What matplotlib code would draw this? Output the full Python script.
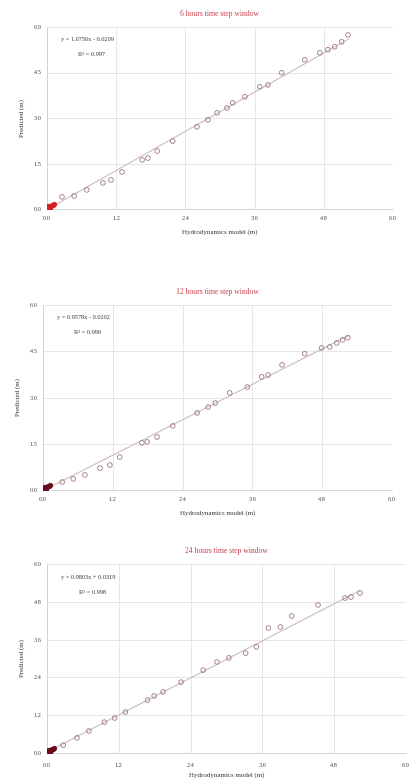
import matplotlib
matplotlib.use("Agg")
import matplotlib.pyplot as plt
import numpy as np

plt.rcParams['font.family'] = ['Liberation Serif', 'DejaVu Serif']

W, H = 409, 783

titles = ["6 hours time step window", "12 hours time step window", "24 hours time step window"]
x_label = "Hydrodynamics model (m)"
y_label = "Predicted (m)"

# fitted trend lines (slope, intercept) and R² per window
slopes = [1.0756, 0.9578, 0.9803]
intercepts = [-0.0209, -0.0202, 0.0319]
r2_text = ["R² = 0.997", "R² = 0.999", "R² = 0.998"]

# near-zero cluster shared by all windows
low_x = [0.00, 0.01, 0.02, 0.03, 0.04, 0.05, 0.06, 0.08, 0.10, 0.12, 0.02, 0.05]
low_y = [0.00, 0.02, 0.04, 0.05, 0.07, 0.08, 0.10, 0.12, 0.14, 0.16, 0.10, 0.03]

x6 = [0.26, 0.47, 0.69, 0.97, 1.11, 1.30, 1.65, 1.75, 1.91, 2.18, 2.60, 2.79, 2.95,
      3.12, 3.22, 3.43, 3.69, 3.83, 4.07, 4.47, 4.73, 4.87, 4.99, 5.11, 5.22]
y6 = [0.40, 0.43, 0.63, 0.86, 0.96, 1.22, 1.62, 1.68, 1.91, 2.24, 2.71, 2.94, 3.17,
      3.33, 3.50, 3.70, 4.03, 4.09, 4.49, 4.92, 5.15, 5.25, 5.35, 5.51, 5.74]

x12 = [0.33, 0.52, 0.72, 0.98, 1.15, 1.32, 1.70, 1.79, 1.96, 2.23, 2.65, 2.84, 2.96,
       3.21, 3.51, 3.76, 3.87, 4.11, 4.50, 4.79, 4.93, 5.05, 5.15, 5.24]
y12 = [0.26, 0.36, 0.49, 0.71, 0.81, 1.07, 1.53, 1.56, 1.72, 2.08, 2.50, 2.69, 2.82,
       3.15, 3.34, 3.67, 3.73, 4.06, 4.42, 4.61, 4.64, 4.77, 4.87, 4.94]

x24 = [0.27, 0.50, 0.70, 0.96, 1.13, 1.31, 1.68, 1.79, 1.94, 2.24, 2.61, 2.84, 3.04,
       3.32, 3.50, 3.70, 3.90, 4.09, 4.53, 4.98, 5.08, 5.23]
y24 = [0.25, 0.48, 0.70, 0.98, 1.11, 1.30, 1.68, 1.81, 1.94, 2.25, 2.63, 2.89, 3.02,
       3.17, 3.37, 3.97, 4.00, 4.35, 4.70, 4.92, 4.95, 5.08]

xs = [x6, x12, x24]
ys = [y6, y12, y24]

x_ticks = [0.0, 1.2, 2.4, 3.6, 4.8, 6.0]
y_ticks_list = [[0.0, 1.5, 3.0, 4.5, 6.0],
                [0.0, 1.5, 3.0, 4.5, 6.0],
                [0.0, 1.2, 2.4, 3.6, 4.8, 6.0]]
cluster_colors = ["#d42020", "#6a0d1a", "#6a0d1a"]

# axes boxes in pixels: left, top, right, bottom
boxes = [(47, 27, 393, 209), (43, 305, 392, 490), (47, 564, 406, 753)]
xtick_pads = [5, 5, 7]
xlabel_pads = [6, 6, 3]

fig = plt.figure(figsize=(W / 100, H / 100), dpi=100)
fig.patch.set_facecolor("white")

for i in range(3):
    l, t, r, b = boxes[i]
    ax = fig.add_axes([l / W, 1 - b / H, (r - l) / W, (b - t) / H])
    ax.set_xlim(0, 6)
    ax.set_ylim(0, 6)
    ax.set_xticks(x_ticks)
    ax.set_yticks(y_ticks_list[i])
    ax.set_xticklabels([f"{v:.1f}" for v in x_ticks], fontsize=4.5, color="#444444")
    ax.set_yticklabels([f"{v:.1f}" for v in y_ticks_list[i]], fontsize=4.5, color="#444444")
    ax.tick_params(length=0, pad=4)
    ax.tick_params(axis="x", pad=xtick_pads[i])
    ax.grid(True, color="#e2e2e2", linewidth=0.6)
    ax.set_axisbelow(True)
    for s in ["top", "right"]:
        ax.spines[s].set_visible(False)
    ax.spines["left"].set_color("#d0d0d0")
    ax.spines["bottom"].set_color("#d0d0d0")
    ax.spines["left"].set_linewidth(0.6)
    ax.spines["bottom"].set_linewidth(0.6)

    # trend line
    xl = np.array([0.0, max(xs[i])])
    ax.plot(xl, slopes[i] * xl + intercepts[i], color="#cbbcc0", linewidth=0.8, zorder=2)

    ax.scatter(xs[i], ys[i], s=11, facecolor="none", edgecolor="#a07880",
               linewidths=0.6, zorder=3)
    ax.scatter(low_x, low_y, s=11, facecolor=cluster_colors[i],
               edgecolor=cluster_colors[i], linewidths=0.5, zorder=4)

    sign = "-" if intercepts[i] < 0 else "+"
    eq = f"y = {slopes[i]:.4f}x {sign} {abs(intercepts[i]):.4f}"
    ax.text(0.04, 0.93, eq, transform=ax.transAxes, fontsize=4.5, color="#333333",
            va="center", ha="left")
    ax.text(0.09, 0.85, r2_text[i], transform=ax.transAxes, fontsize=4.5,
            color="#333333", va="center", ha="left")

    ax.set_title(titles[i], fontsize=5.5, color="#c8404a", pad=8)
    ax.set_xlabel(x_label, fontsize=5, color="#333333", labelpad=xlabel_pads[i])
    ax.set_ylabel(y_label, fontsize=5, color="#333333", labelpad=6)

fig.savefig("out.png", dpi=100, facecolor="white")
